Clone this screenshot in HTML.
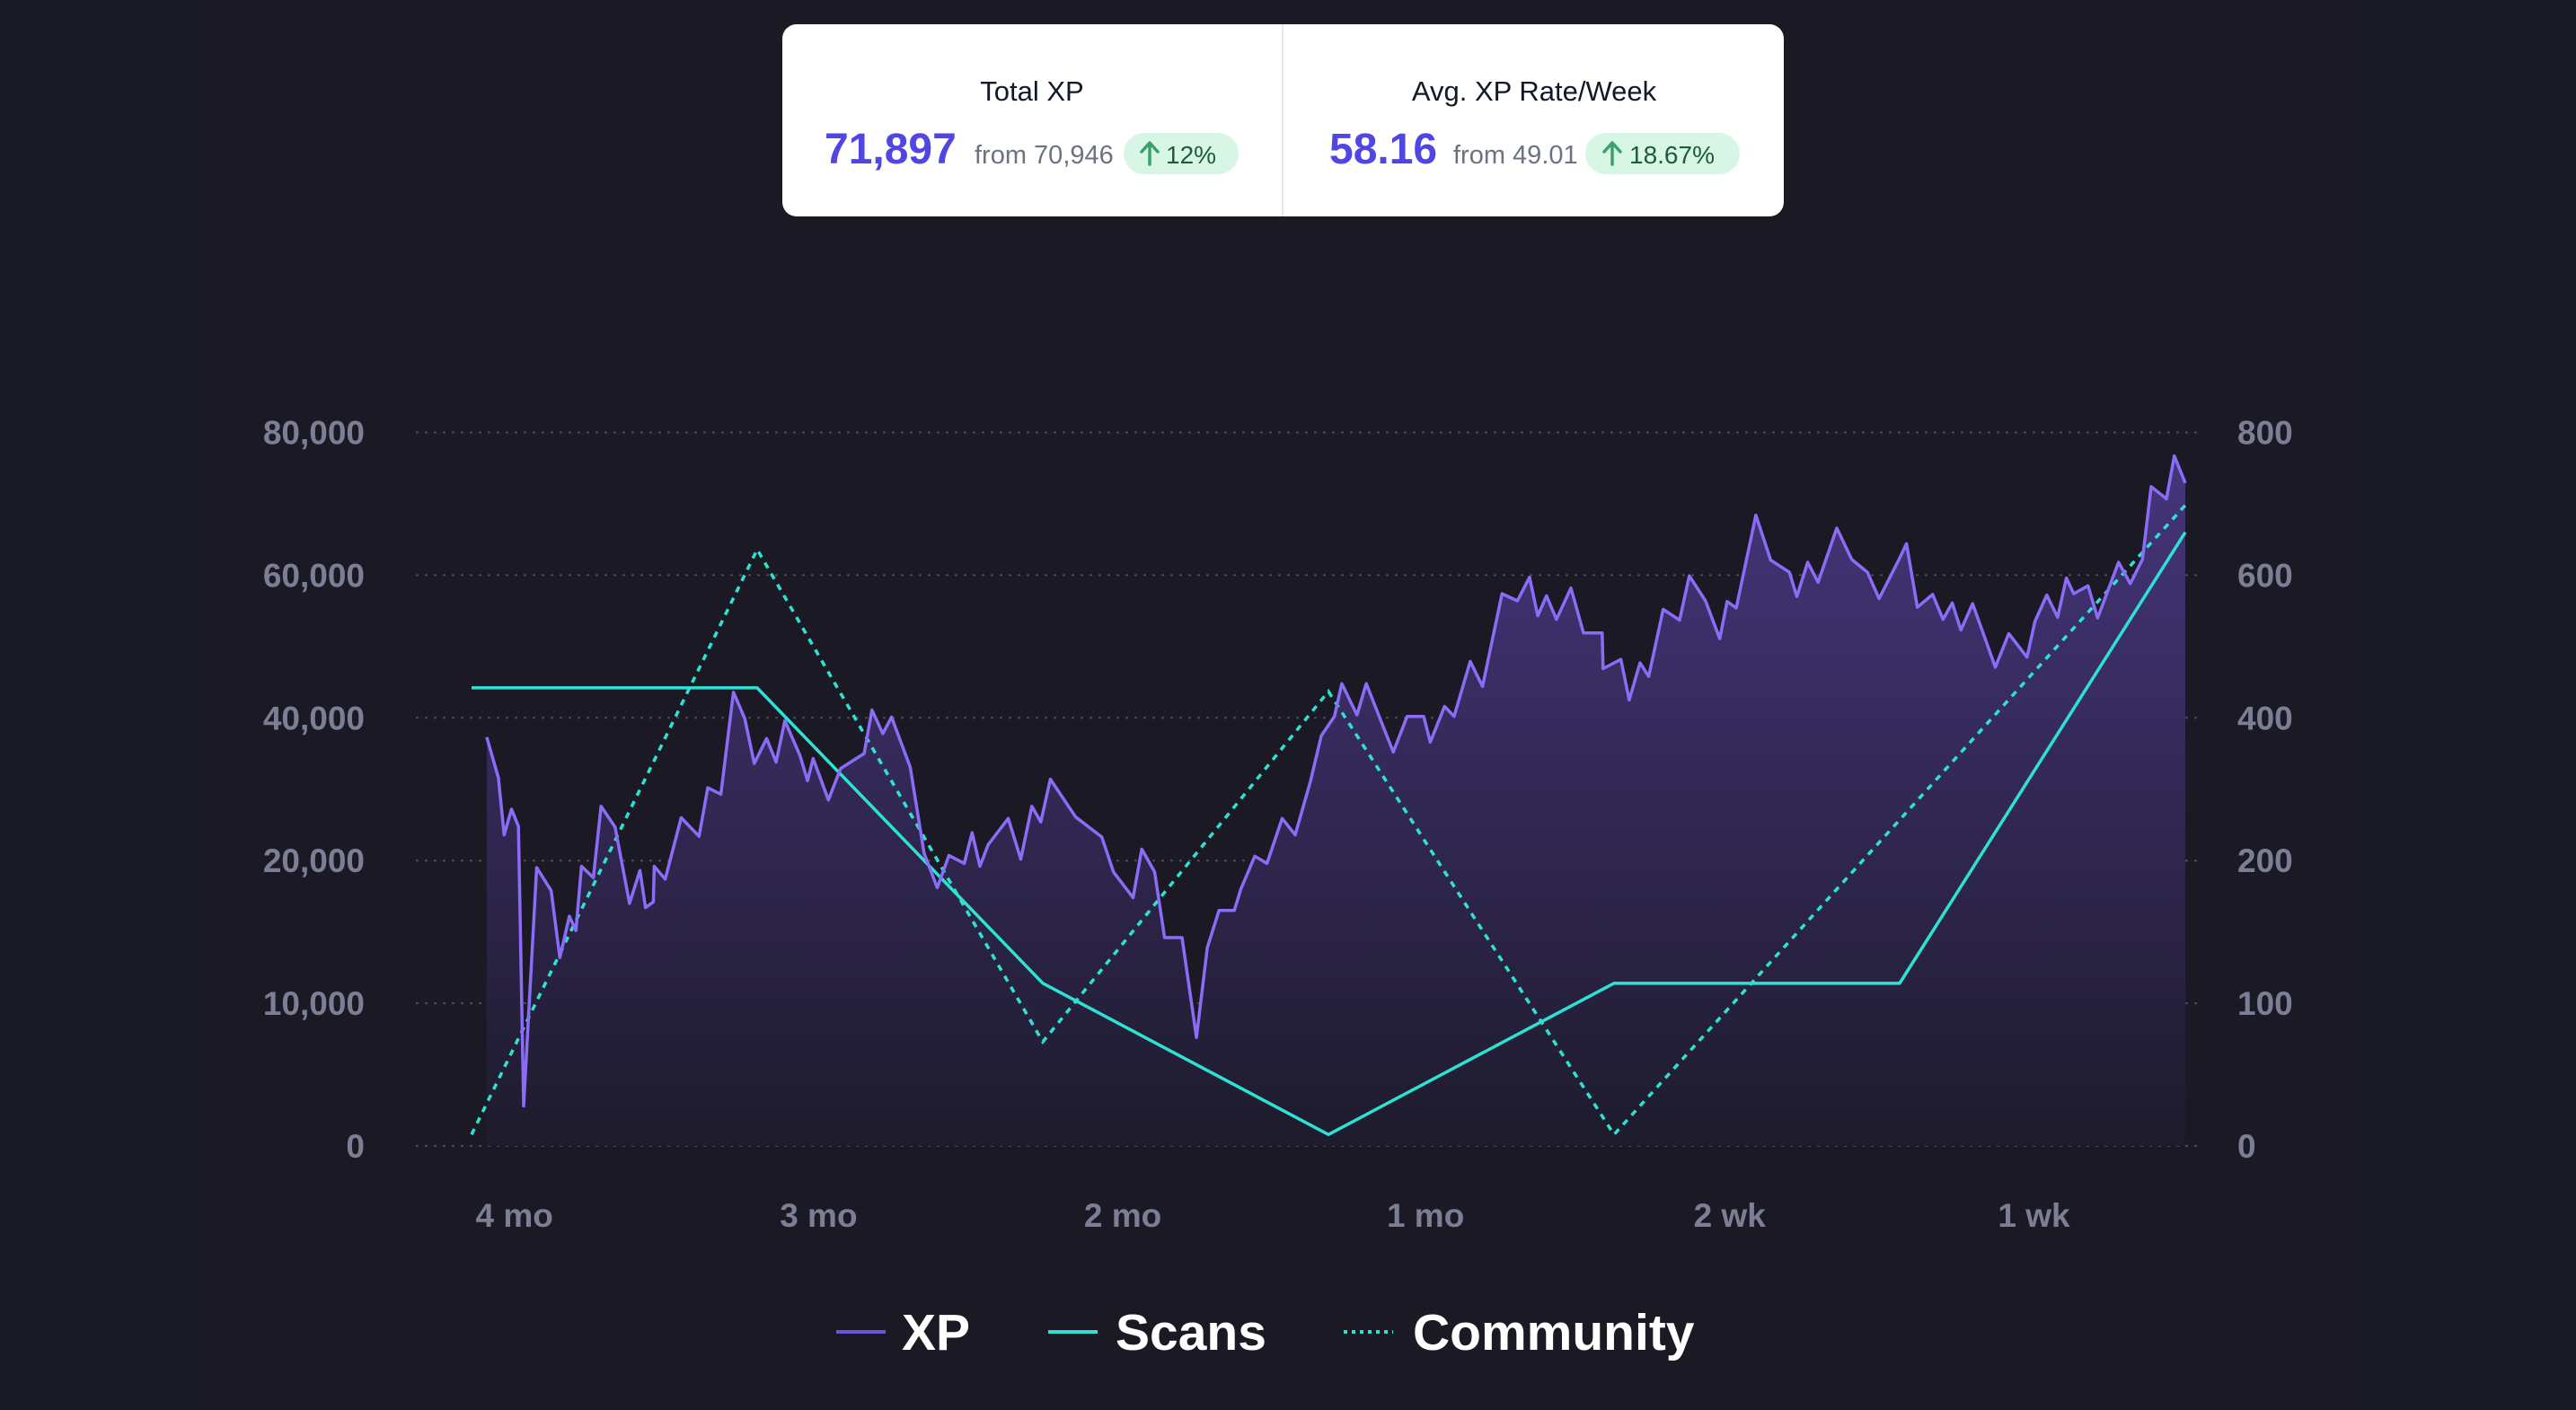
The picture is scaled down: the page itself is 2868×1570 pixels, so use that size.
<!DOCTYPE html>
<html><head><meta charset="utf-8"><style>
html,body{margin:0;padding:0;background:#171a25;}
svg{display:block;}
text{font-family:"Liberation Sans",sans-serif;}
</style></head><body>
<svg id="chart" width="2868" height="1570" viewBox="0 0 2868 1570" xmlns="http://www.w3.org/2000/svg">
<defs>
<linearGradient id="areaGrad" gradientUnits="userSpaceOnUse" x1="0" y1="480" x2="0" y2="1276">
<stop offset="0" stop-color="#47367f"/>
<stop offset="1" stop-color="#1e1b2c"/>
</linearGradient>
</defs>
<rect x="0" y="0" width="2868" height="1570" fill="#171a25"/>
<rect x="229" y="0" width="2396" height="1570" fill="#1b1a24"/>

<g>
<rect x="871" y="27" width="1115" height="214" rx="16" fill="#ffffff"/>
<line x1="1428" y1="27" x2="1428" y2="241" stroke="#e5e7eb" stroke-width="2"/>
<text x="1149" y="112" font-size="31" fill="#111827" text-anchor="middle">Total XP</text>
<text x="918" y="182" font-size="48" font-weight="bold" fill="#4f46e5">71,897</text>
<text x="1085" y="182" font-size="29" fill="#6b7280">from 70,946</text>
<g>
<rect x="1251" y="148" width="128" height="46" rx="23" fill="#d8f6e5"/>
<path d="M1280 183 V160 M1271 169 L1280 159 L1289 169" stroke="#3aa06a" stroke-width="3.5" fill="none" stroke-linecap="round" stroke-linejoin="round"/>
<text x="1298" y="182" font-size="28" fill="#1f5a3c">12%</text>
</g>
<text x="1708" y="112" font-size="31" fill="#111827" text-anchor="middle">Avg. XP Rate/Week</text>
<text x="1480" y="182" font-size="48" font-weight="bold" fill="#4f46e5">58.16</text>
<text x="1618" y="182" font-size="29" fill="#6b7280">from 49.01</text>
<g>
<rect x="1765" y="148" width="172" height="46" rx="23" fill="#d8f6e5"/>
<path d="M1795 183 V160 M1786 169 L1795 159 L1804 169" stroke="#3aa06a" stroke-width="3.5" fill="none" stroke-linecap="round" stroke-linejoin="round"/>
<text x="1814" y="182" font-size="28" fill="#1f5a3c">18.67%</text>
</g>
</g>

<g id="grid"></g>
<g id="area"></g>
<g id="lines"></g>
<g id="axes"></g>

<g>
<g>
<line x1="931" y1="1483" x2="986" y2="1483" stroke="#6d55d8" stroke-width="4"/>
<text x="1004" y="1503" font-size="57" font-weight="bold" fill="#ffffff">XP</text>
</g>
<g>
<line x1="1167" y1="1483" x2="1222" y2="1483" stroke="#2de2d2" stroke-width="4"/>
<text x="1242" y="1503" font-size="57" font-weight="bold" fill="#ffffff">Scans</text>
</g>
<g>
<line x1="1496" y1="1483" x2="1551" y2="1483" stroke="#2de2d2" stroke-width="4" stroke-dasharray="4 5"/>
<text x="1573" y="1503" font-size="57" font-weight="bold" fill="#ffffff">Community</text>
</g>
</g>
</svg>
<script>
const leftTicks = [0, 10000, 20000, 40000, 60000, 80000];
const leftTickLabels = ["0", "10,000", "20,000", "40,000", "60,000", "80,000"];
const rightTicks = [0, 100, 200, 400, 600, 800];
const rightTickLabels = ["0", "100", "200", "400", "600", "800"];
const xTickDays = [3, 24.3, 45.6, 66.8, 88.1, 109.4];
const xTickLabels = ["4 mo", "3 mo", "2 mo", "1 mo", "2 wk", "1 wk"];

const xpDays = [1.06,1.88,2.28,2.8,3.28,3.65,4.56,5.57,6.18,6.85,7.31,7.7,8.53,9.07,10.05,11.06,11.79,12.18,12.73,12.79,13.56,14.68,15.93,16.54,17.46,18.34,19.13,19.8,20.66,21.33,21.94,23.0,23.53,23.92,24.99,25.84,27.49,28.04,28.8,29.41,30.72,31.69,32.61,33.43,34.5,35.05,35.6,36.17,37.58,38.46,39.23,39.86,40.53,42.3,44.13,44.95,46.32,46.93,47.83,48.53,49.75,50.76,51.52,52.34,53.41,53.87,54.84,55.7,56.76,57.67,58.74,59.5,60.42,60.94,62.0,62.65,64.54,65.51,66.67,67.13,68.13,68.8,69.93,70.79,72.16,73.23,74.08,74.66,75.27,75.97,76.98,77.86,79.17,79.23,80.48,81.06,81.82,82.43,83.44,84.59,85.27,86.4,87.4,87.92,88.56,89.93,90.97,92.28,92.8,93.56,94.29,95.6,96.64,97.74,98.56,99.93,100.48,101.24,102.31,103.04,103.68,104.29,105.11,106.7,107.64,108.92,109.47,110.3,111.06,111.67,112.19,113.19,113.86,115.33,116.15,117.0,117.61,118.68,119.23,120.0];
const xpValues = [37300,31600,23600,27200,24800,2800,19500,17900,13200,16100,15100,19600,18800,27600,24700,17000,19300,16700,17100,19600,18700,26000,23400,30200,29300,43600,39900,33600,37100,33800,39600,34700,31200,34300,28500,32900,35000,41100,37800,40100,33100,21000,18100,20700,19800,23900,19600,22200,25900,20200,27600,25400,31400,26100,23300,19200,17400,21600,19200,14600,14600,7600,13900,16500,16500,18000,20600,19800,25900,23600,31100,37500,40200,44800,40400,44800,35200,40200,40200,36600,41600,40200,47900,44400,57400,56400,59700,54300,57100,53800,58200,51900,51900,46900,48200,42500,47700,45800,55200,53700,59900,56400,51100,56300,55400,68400,62100,60400,57000,61800,59000,66600,62200,60400,56700,62100,64400,55500,57300,53800,56100,52300,56000,47100,51800,48500,53500,57200,54100,59600,57400,58500,54000,61800,58800,62200,72400,70700,76700,72900];

const scansDays = [0, 20, 40, 60, 80, 100, 120];
const scansValues = [442, 442, 114, 8, 114, 114, 660];
const communityDays = [0, 20, 40, 60, 80, 120];
const communityValues = [8, 636, 73, 437, 8, 698];

const NS = "http://www.w3.org/2000/svg";
const X0 = 525, DAY_PX = 15.9;
const Y_BASE = 1276, BAND = 158.9;
const GRID_X1 = 463, GRID_X2 = 2451;

function xScale(d){ return X0 + d * DAY_PX; }
function bandScale(v, ticks){
  for (let i = 0; i < ticks.length - 1; i++) {
    if (v <= ticks[i+1] || i === ticks.length - 2) {
      const t = (v - ticks[i]) / (ticks[i+1] - ticks[i]);
      return Y_BASE - (i + t) * BAND;
    }
  }
}
function yLeft(v){ return bandScale(v, leftTicks); }
function yRight(v){ return bandScale(v, rightTicks); }
function mk(tag, attrs){ const e = document.createElementNS(NS, tag); for (const k in attrs) e.setAttribute(k, attrs[k]); return e; }

const grid = document.getElementById('grid');
const axes = document.getElementById('axes');
leftTicks.forEach((t, i) => {
  const y = yLeft(t);
  const gl = mk('line', {x1: GRID_X1, x2: GRID_X2, y1: y, y2: y, stroke: '#4a4a58', 'stroke-width': 2, 'stroke-dasharray': '3 7'});
  
  
  grid.appendChild(gl);
  const lt = mk('text', {x: 406, y: y + 13, 'font-size': 37, 'font-weight': 'bold', fill: '#7b7e94', 'text-anchor': 'end'});
  lt.textContent = leftTickLabels[i];
  
  
  axes.appendChild(lt);
});
rightTicks.forEach((t, i) => {
  const y = yRight(t);
  const rt = mk('text', {x: 2491, y: y + 13, 'font-size': 37, 'font-weight': 'bold', fill: '#7b7e94'});
  rt.textContent = rightTickLabels[i];
  
  
  axes.appendChild(rt);
});
xTickDays.forEach((d, i) => {
  const xt = mk('text', {x: xScale(d), y: 1366, 'font-size': 37, 'font-weight': 'bold', fill: '#7b7e94', 'text-anchor': 'middle'});
  xt.textContent = xTickLabels[i];
  
  
  axes.appendChild(xt);
});

const xpPts = xpDays.map((d, i) => xScale(d).toFixed(1) + ',' + yLeft(xpValues[i]).toFixed(1));
const areaD = 'M' + xScale(xpDays[0]) + ',' + Y_BASE + ' L' + xpPts.join(' L') + ' L' + xScale(xpDays[xpDays.length-1]) + ',' + Y_BASE + ' Z';
const area = mk('path', {d: areaD, fill: 'url(#areaGrad)'});


document.getElementById('area').appendChild(area);

const lines = document.getElementById('lines');
const comm = mk('polyline', {points: communityDays.map((d, i) => xScale(d) + ',' + yRight(communityValues[i])).join(' '), fill: 'none', stroke: '#2de2d2', 'stroke-width': 3.5, 'stroke-dasharray': '7 7'});


lines.appendChild(comm);
const scans = mk('polyline', {points: scansDays.map((d, i) => xScale(d) + ',' + yRight(scansValues[i])).join(' '), fill: 'none', stroke: '#2de2d2', 'stroke-width': 3.5});


lines.appendChild(scans);
const xp = mk('polyline', {points: xpPts.join(' '), fill: 'none', stroke: '#8b6cf6', 'stroke-width': 3.5, 'stroke-linejoin': 'round'});


lines.appendChild(xp);
</script>
</body></html>
